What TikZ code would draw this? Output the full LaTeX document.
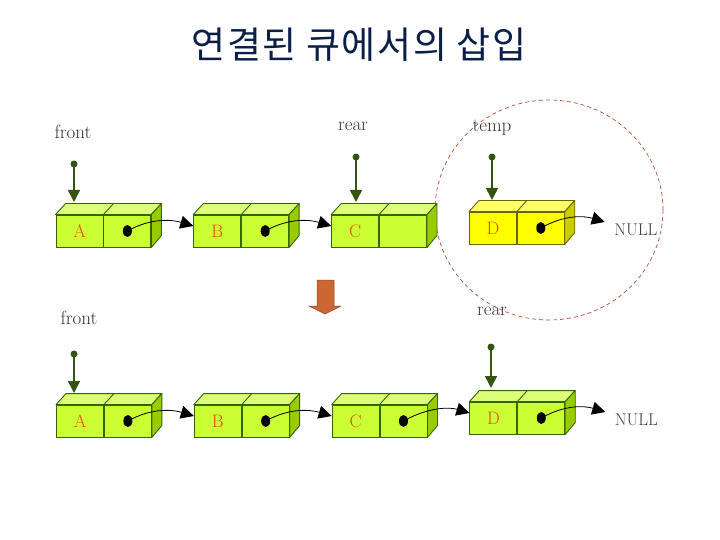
\documentclass[tikz,border=0pt]{standalone}
\usepackage{fontspec}
\newfontfamily\kofont[LetterSpace=4]{Noto Sans CJK KR}
\usepackage{xcolor}
\usepackage{tikz}
\usetikzlibrary{positioning,calc,arrows.meta}

\definecolor{boxfront}{RGB}{204,255,51}
\definecolor{boxtop}{RGB}{221,255,119}
\definecolor{boxside}{RGB}{153,204,0}
\definecolor{boxline}{RGB}{51,102,0}
\definecolor{newfront}{RGB}{255,255,0}
\definecolor{newtop}{RGB}{255,255,102}
\definecolor{newside}{RGB}{204,204,0}
\definecolor{newline}{RGB}{102,102,0}
\definecolor{ptrgreen}{RGB}{51,85,17}
\definecolor{datared}{RGB}{225,75,10}
\definecolor{moveorange}{RGB}{204,102,51}
\definecolor{circlered}{RGB}{180,80,60}
\definecolor{titleblue}{RGB}{10,30,70}

% top and side faces of a two-cell queue node
\newcommand{\boxfaces}[5]{%
  \filldraw[fill=#3, draw=#5, line width=0.9pt, line join=round] (#1.north west) -- ++(10,-11) -- ($(#2.north east)+(10,-11)$) -- (#2.north east) -- cycle;
  \draw[#5, line width=0.9pt] (#1.north east) -- ++(10,-11);
  \filldraw[fill=#4, draw=#5, line width=0.9pt, line join=round] (#2.north east) -- ++(10,-11) -- ++(0,32) -- (#2.south east) -- cycle;
}

\tikzset{
  cell/.style={draw=boxline, fill=boxfront, line width=0.9pt, minimum width=47pt, minimum height=32pt, inner sep=0pt, font=\fontsize{18}{18}\selectfont, text=datared},
  newcell/.style={cell, draw=newline, fill=newfront},
  ptrlabel/.style={font=\fontsize{19}{19}\selectfont, text=black!80},
  nulllabel/.style={font=\fontsize{17}{17}\selectfont, text=black!75},
  link/.style={black, line width=0.8pt, -{Triangle[length=13pt,width=13pt]}},
  ptr/.style={ptrgreen, line width=1.6pt, -{Triangle[length=12pt,width=12pt]}},
  ptrdot/.style={circle, fill=ptrgreen, inner sep=0pt, minimum size=7pt},
}

\begin{document}
\begin{tikzpicture}[x=1pt, y=-1pt]
    \useasboundingbox (0,0) rectangle (720,540);

    \node[font=\kofont\fontsize{37}{37}\selectfont, text=titleblue] (title) at (359,45) {연결된 큐에서의 삽입};

    % new node circled
    \draw[circlered, dash pattern=on 4pt off 3pt, line width=0.7pt] (549,210) ellipse [x radius=114pt, y radius=110pt];

    % queue before insertion
    \node[cell] (a1) at (79.5,231) {A};
    \node[cell, right=0pt of a1] (a1p) {};
    \node[cell, right=42pt of a1p] (b1) {B};
    \node[cell, right=0pt of b1] (b1p) {};
    \node[cell, right=42pt of b1p] (c1) {C};
    \node[cell, right=0pt of c1] (c1p) {};
    \node[newcell, right=42pt of c1p, yshift=3pt] (d1) {D};
    \node[newcell, right=0pt of d1] (d1p) {};
    \node[nulllabel, right=46pt of d1p, yshift=-2pt] (null1) {NULL};

    \boxfaces{a1}{a1p}{boxtop}{boxside}{boxline}
    \boxfaces{b1}{b1p}{boxtop}{boxside}{boxline}
    \boxfaces{c1}{c1p}{boxtop}{boxside}{boxline}
    \boxfaces{d1}{d1p}{newtop}{newside}{newline}

    \foreach \n in {a1p,b1p,d1p}
      \fill[black] (\n.center) ellipse [x radius=4.5pt, y radius=6pt];

    \draw[link] (a1p.center) .. controls +(25,-14) and +(-20,-6) .. ([yshift=5pt]b1.west);
    \draw[link] (b1p.center) .. controls +(25,-14) and +(-20,-6) .. ([yshift=5pt]c1.west);
    \draw[link] (d1p.center) .. controls +(25,-14) and +(-20,-6) .. ([xshift=-6pt,yshift=8pt]null1.west);

    \node[ptrlabel] (front1) at (73,132) {front};
    \node[ptrlabel] (rear1) at (353,126) {rear};
    \node[ptrlabel] (temp1) at (492,128) {temp};
    \node[ptrdot] (frontdot1) at (74,164) {};
    \node[ptrdot] (reardot1) at (356,157) {};
    \node[ptrdot] (tempdot1) at (492,157) {};
    \coordinate (fronttip1) at (74,202);
    \coordinate (reartip1) at (356,202);
    \coordinate (temptip1) at (492,200);
    \draw[ptr] (frontdot1.center) -- (fronttip1);
    \draw[ptr] (reardot1.center) -- (reartip1);
    \draw[ptr] (tempdot1.center) -- (temptip1);

    % step arrow
    \filldraw[fill=moveorange, draw=moveorange!70!black, line width=0.5pt] (317,280) -- (334,280) -- (334,306) -- (341,306) -- (325,314) -- (309,306) -- (317,306) -- cycle;

    % queue after insertion
    \node[cell] (a2) at (80,421) {A};
    \node[cell, right=0pt of a2] (a2p) {};
    \node[cell, right=42pt of a2p] (b2) {B};
    \node[cell, right=0pt of b2] (b2p) {};
    \node[cell, right=42pt of b2p] (c2) {C};
    \node[cell, right=0pt of c2] (c2p) {};
    \node[cell, right=42pt of c2p, yshift=3pt] (d2) {D};
    \node[cell, right=0pt of d2] (d2p) {};
    \node[nulllabel, right=46pt of d2p, yshift=-2pt] (null2) {NULL};

    \boxfaces{a2}{a2p}{boxtop}{boxside}{boxline}
    \boxfaces{b2}{b2p}{boxtop}{boxside}{boxline}
    \boxfaces{c2}{c2p}{boxtop}{boxside}{boxline}
    \boxfaces{d2}{d2p}{boxtop}{boxside}{boxline}

    \foreach \n in {a2p,b2p,c2p,d2p}
      \fill[black] (\n.center) ellipse [x radius=4.5pt, y radius=6pt];

    \draw[link] (a2p.center) .. controls +(25,-14) and +(-20,-6) .. ([yshift=5pt]b2.west);
    \draw[link] (b2p.center) .. controls +(25,-14) and +(-20,-6) .. ([yshift=5pt]c2.west);
    \draw[link] (c2p.center) .. controls +(25,-14) and +(-20,-6) .. ([yshift=5pt]d2.west);
    \draw[link] (d2p.center) .. controls +(25,-14) and +(-20,-6) .. ([xshift=-6pt,yshift=8pt]null2.west);

    \node[ptrlabel] (front2) at (79,318) {front};
    \node[ptrlabel] (rear2) at (492,311) {rear};
    \node[ptrdot] (frontdot2) at (74,354) {};
    \node[ptrdot] (reardot2) at (491,347) {};
    \coordinate (fronttip2) at (74,393);
    \coordinate (reartip2) at (491,388);
    \draw[ptr] (frontdot2.center) -- (fronttip2);
    \draw[ptr] (reardot2.center) -- (reartip2);
\end{tikzpicture}
\end{document}
